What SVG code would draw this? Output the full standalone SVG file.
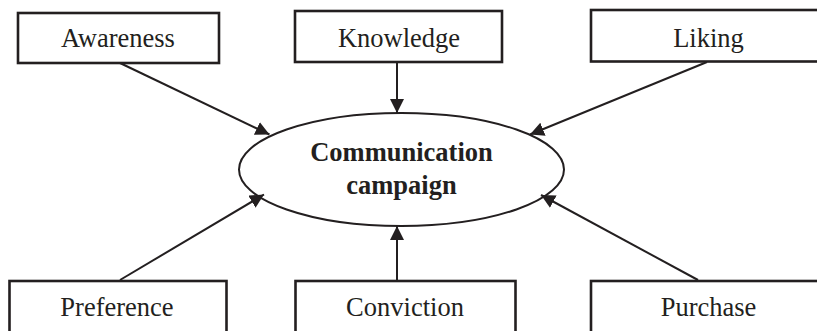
<svg xmlns="http://www.w3.org/2000/svg" width="817" height="331" viewBox="0 0 817 331">
<defs>
<style>
.box{fill:#fff;stroke:#231f20;stroke-width:2.6}
.lbl{font-size:26.5px;fill:#231f20;text-anchor:middle}
.bold{font-weight:bold}
.conn{stroke:#231f20;stroke-width:2;fill:none}
</style>
<marker id="ah" viewBox="0 0 10 10" refX="10" refY="5" markerWidth="14" markerHeight="14" markerUnits="userSpaceOnUse" orient="auto">
<path d="M0,0 L10,5 L0,10 z" fill="#231f20"/>
</marker>
</defs>
<rect width="817" height="331" fill="#fff"/>
<g id="connectors" class="conn" marker-end="url(#ah)">
<line x1="120" y1="63" x2="269.5" y2="134.5" marker-end="url(#ah)"/>
<line x1="397" y1="62" x2="397" y2="113" marker-end="url(#ah)"/>
<line x1="707" y1="62" x2="530" y2="134.5" marker-end="url(#ah)"/>
<line x1="120" y1="280" x2="264" y2="194.5" marker-end="url(#ah)"/>
<line x1="397" y1="281" x2="397" y2="226" marker-end="url(#ah)"/>
<line x1="698" y1="280" x2="541" y2="195" marker-end="url(#ah)"/>
</g>
<g font-family="'Liberation Serif', 'Times New Roman', 'DejaVu Serif', serif">
<g id="center">
<ellipse cx="401.5" cy="169.5" rx="162.5" ry="56.5" fill="none" stroke="#231f20" stroke-width="2"/>
<text class="lbl bold" x="401.5" y="161">Communication</text>
<text class="lbl bold" x="401.5" y="194">campaign</text>
</g>
<g id="awareness">
<rect class="box" x="18" y="13" width="201" height="50"/>
<text class="lbl" x="118" y="47">Awareness</text>
</g>
<g id="knowledge">
<rect class="box" x="295" y="11" width="207" height="51"/>
<text class="lbl" x="399" y="47">Knowledge</text>
</g>
<g id="liking">
<rect class="box" x="591" y="10" width="240" height="51.5"/>
<text class="lbl" x="708.5" y="47">Liking</text>
</g>
<g id="preference">
<rect class="box" x="9.5" y="281" width="217" height="60"/>
<text class="lbl" x="117" y="316">Preference</text>
</g>
<g id="conviction">
<rect class="box" x="295.5" y="281" width="220" height="60"/>
<text class="lbl" x="405" y="316">Conviction</text>
</g>
<g id="purchase">
<rect class="box" x="591" y="281" width="240" height="60"/>
<text class="lbl" x="708.5" y="316">Purchase</text>
</g>
</g>
</svg>
